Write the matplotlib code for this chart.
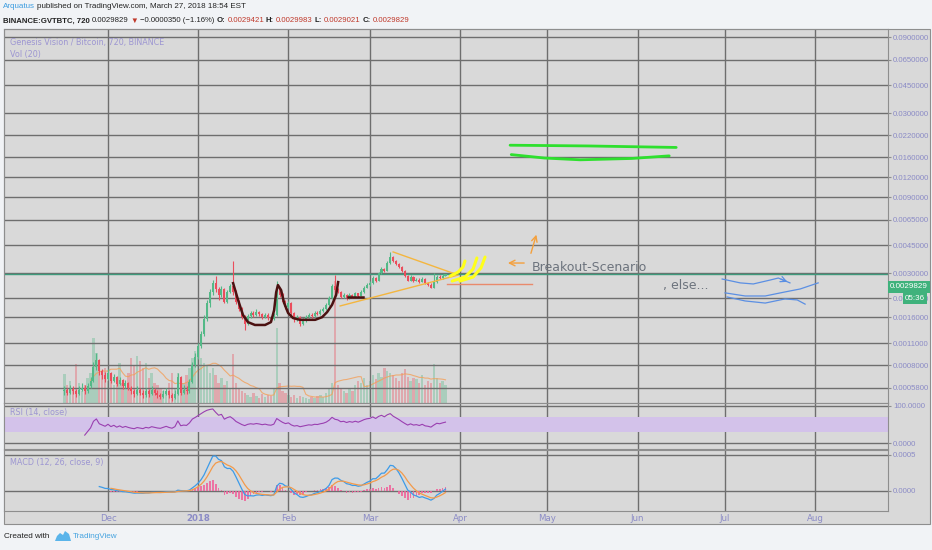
import numpy as np
import pandas as pd
import matplotlib
matplotlib.use("Agg")
import matplotlib.pyplot as plt
from matplotlib.patches import Rectangle, Polygon

W, H = 932, 550
start = pd.Timestamp("2017-11-16")

# daily GVT/BTC candles, price in 1e-4 BTC
close_e4 = [
    5.6, 5.4, 5.7, 5.5, 5.3, 5.6, 5.8, 5.5, 5.9, 6.4,
    7.8, 8.6, 7.4,
    7.0, 6.6, 7.2, 6.4, 6.8, 6.1, 6.5, 5.9, 6.2,
    5.8, 5.5, 5.3, 5.6, 5.4, 5.2, 5.5, 5.3, 5.6, 5.4, 5.2, 5.1, 5.3, 5.5, 5.2, 5.0, 5.3,
    6.8, 5.4, 5.6, 5.5, 6.3, 8.0, 9.0,
    10.5, 12.5, 15.5, 19.5, 23.0, 26.0, 24.0,
    22.0, 24.0, 20.0, 23.0, 25.0,
    23.0,
    20.0, 18.0, 16.0, 14.5,
    16.2, 17.0, 16.5, 17.3, 16.8, 16.0, 16.6, 15.8, 15.5,
    16.5, 24.0,
    22.0, 20.0, 18.5, 19.5,
    17.0, 15.5, 16.0, 14.5, 15.2,
    16.0, 16.5, 16.2, 17.0, 16.8, 17.5, 18.0, 19.0,
    21.0, 25.0, 23.5,
    23.0, 21.5, 22.0, 21.0,
    22.0, 21.5, 22.5, 21.8,
    23.0, 24.5, 25.5, 26.0,
    28.0, 27.0,
    30.0, 32.0, 31.0,
    35.0, 38.0,
    36.0, 34.5, 33.0, 31.0,
    29.0, 27.0, 28.5, 27.0,
    27.5, 26.5, 27.8,
    26.0, 25.5, 24.5,
    26.5,
    28.5, 28.0, 29.0, 29.829,
]
high_e4 = [
    5.9, 5.8, 6.0, 5.9, 5.7, 5.9, 6.2, 6.0, 6.2, 6.8,
    8.4, 9.6, 8.8,
    7.6, 7.3, 7.6, 7.3, 7.1, 6.9, 6.8, 6.6, 6.5,
    6.3, 5.9, 5.7, 5.9, 5.8, 5.6, 5.8, 5.7, 5.9, 5.8, 5.6, 5.4, 5.6, 5.8, 5.6, 5.4, 5.6,
    7.2, 6.9, 6.0, 5.9, 6.6, 8.4, 9.6,
    11.0, 13.2, 16.4, 20.5, 24.0, 27.5, 29.0,
    24.8, 25.0, 24.5, 23.6, 25.8,
    36.0,
    23.5, 20.5, 18.5, 16.5,
    16.8, 17.6, 17.4, 17.9, 17.6, 17.0, 17.1, 16.9, 16.2,
    17.0, 27.0,
    24.5, 22.5, 20.5, 20.2,
    19.8, 17.3, 16.6, 16.3, 15.9,
    16.6, 17.0, 16.9, 17.5, 17.4, 18.0, 18.6, 19.6,
    21.8, 25.8, 29.5,
    24.2, 23.4, 22.6, 22.3,
    22.6, 22.4, 23.0, 22.8,
    23.6, 25.0, 26.2, 26.8,
    28.8, 28.6,
    30.8, 32.8, 32.6,
    35.8, 41.0,
    38.8, 36.5, 35.0, 33.5,
    31.5, 29.5, 29.3, 28.9,
    28.2, 28.0, 28.5,
    28.0, 26.6, 26.0,
    30.0,
    29.2, 29.3, 29.6, 29.983,
]
low_e4 = [
    5.2, 5.2, 5.3, 5.3, 5.1, 5.2, 5.5, 5.3, 5.4, 5.8,
    6.3, 7.5, 7.0,
    6.6, 6.3, 6.5, 6.2, 6.3, 5.9, 6.0, 5.7, 5.8,
    5.6, 5.3, 5.1, 5.2, 5.2, 5.0, 5.1, 5.1, 5.2, 5.2, 5.0, 4.9, 5.0, 5.2, 5.0, 4.8, 4.9,
    5.2, 5.2, 5.3, 5.3, 5.4, 6.2, 7.8,
    8.8, 10.2, 12.2, 15.2, 18.5, 22.0, 23.0,
    20.5, 21.5, 19.5, 19.6, 22.5,
    22.0,
    19.2, 17.5, 15.5, 13.3,
    14.3, 15.8, 16.0, 16.2, 16.3, 15.6, 15.7, 15.4, 15.2,
    15.3, 16.2,
    21.5, 19.6, 18.0, 18.2,
    16.6, 15.0, 15.1, 14.0, 14.2,
    15.0, 15.8, 15.8, 16.0, 16.4, 16.6, 17.3, 17.8,
    18.8, 20.8, 23.0,
    22.5, 21.0, 21.2, 20.6,
    20.9, 21.0, 21.3, 21.4,
    21.6, 22.8, 24.2, 25.0,
    25.8, 26.5,
    26.8, 29.8, 30.6,
    30.9, 34.5,
    35.4, 33.8, 32.5, 30.6,
    28.6, 26.8, 26.9, 26.7,
    26.8, 26.2, 26.4,
    25.8, 25.2, 24.2,
    24.4,
    26.3, 27.8, 27.9, 29.021,
]
first_open_e4 = 5.5
volume = [
    29, 18, 22, 15, 39, 20, 12, 18, 25, 30,
    65, 50, 35,
    28, 35, 22, 30, 18, 25, 40, 20, 15,
    30, 45, 38, 47, 42, 35, 40, 25, 30, 20, 18, 15, 12, 10, 20, 30, 14,
    30, 25, 20, 28, 35, 45, 52,
    50, 45, 40, 37, 30, 35, 28,
    20, 25, 18, 22, 15,
    49,
    20, 15, 12, 10,
    8, 6, 10, 7, 5, 9, 6, 8, 7,
    15, 75,
    20, 12, 10, 8,
    6, 8, 5, 7, 6,
    5, 4, 6, 5, 7, 8, 6, 10,
    15, 20, 122,
    18, 14, 12, 10,
    15, 12, 18, 22,
    20, 25, 18, 22,
    28, 24,
    30, 26, 35,
    32, 30,
    28, 25, 22, 30,
    34, 26, 22, 25,
    24, 20, 28,
    18, 22, 20,
    39,
    25, 20, 22, 18,
]

price_ticks = [0.09, 0.065, 0.045, 0.03, 0.022, 0.016, 0.012, 0.009, 0.0065,
               0.0045, 0.003, 0.0021, 0.0016, 0.0011, 0.0008, 0.00058]
month_dates = ["2017-12-01", "2018-01-01", "2018-02-01", "2018-03-01", "2018-04-01",
               "2018-05-01", "2018-06-01", "2018-07-01", "2018-08-01"]
month_labels = ["Dec", "2018", "Feb", "Mar", "Apr", "May", "Jun", "Jul", "Aug"]
last_price = 0.0029829

# hand drawings on the chart (day offset from start, price)
green_top_d = [153.2, 180.0, 210.3]
green_top_p = [0.0190, 0.0188, 0.0184]
green_bot_d = [153.6, 165.0, 177.3, 195.0, 207.9]
green_bot_p = [0.0166, 0.0158, 0.0154, 0.0157, 0.0163]
cup_d = [58.0, 59.7, 61.4, 63.1, 65.5, 69.0, 71.0, 72.1, 72.8, 73.4, 74.5,
         75.5, 76.9, 78.6, 81.0, 86.2, 88.6, 90.3, 92.0, 93.4, 94.1]
cup_p = [0.00261, 0.00205, 0.00165, 0.00149, 0.00143, 0.00143, 0.00149, 0.00177,
         0.00229, 0.00254, 0.00236, 0.00197, 0.00170, 0.00158, 0.00154, 0.00154,
         0.00160, 0.00172, 0.00191, 0.00220, 0.00265]
handle_d = [97.5, 102.7]
handle_p = [0.00214, 0.00214]
tri_upper_d = [113.0, 134.3]
tri_upper_p = [0.00409, 0.00298]
tri_lower_d = [94.8, 135.3]
tri_lower_p = [0.00188, 0.00293]
red_level_d = [131.5, 160.8]
red_level_p = [0.00258, 0.00258]
yellow_strokes = [
    ([132.6, 135.3, 137.0, 137.7], [0.00289, 0.00306, 0.00329, 0.00359]),
    ([133.3, 137.7, 140.5, 141.8], [0.00269, 0.00285, 0.00320, 0.00375]),
    ([136.0, 140.5, 143.2, 144.6], [0.00269, 0.00285, 0.00325, 0.00380]),
]
blue_waves = [
    ([226.1, 232.3, 236.8, 242.6, 245.4, 249.4], [0.00277, 0.00262, 0.00258, 0.00273, 0.00281, 0.00262]),
    ([227.1, 234.0, 240.9, 247.7, 252.9, 259.1], [0.00227, 0.00217, 0.00217, 0.00230, 0.00240, 0.00262]),
    ([227.8, 234.0, 240.9, 247.7, 251.9, 254.6], [0.00214, 0.00202, 0.00196, 0.00208, 0.00205, 0.00193]),
]

# ---- derived series ----
close = np.array(close_e4) * 1e-4
high = np.array(high_e4) * 1e-4
low = np.array(low_e4) * 1e-4
opn = np.r_[first_open_e4 * 1e-4, close[:-1]]
days = np.arange(len(close))
up = close >= opn

cs = pd.Series(close)
delta = cs.diff()
gain = delta.clip(lower=0).ewm(alpha=1 / 14, adjust=False, min_periods=7).mean()
loss = (-delta.clip(upper=0)).ewm(alpha=1 / 14, adjust=False, min_periods=7).mean()
rsi = 100 - 100 / (1 + gain / loss)
# daily bars -> MACD lengths halved vs the 12h chart
macd = cs.ewm(span=6, adjust=False).mean() - cs.ewm(span=13, adjust=False).mean()
macd[:12] = np.nan
signal = macd.ewm(span=5, adjust=False, min_periods=5).mean()
hist = macd - signal
vol_ma = pd.Series(volume).rolling(10).mean()

month_pos = [(pd.Timestamp(d) - start).days for d in month_dates]

# ---- figure ----
BG = "#d9d9d9"
GRID = "#6e6e6e"
LBL = "#8b8bc6"
fig = plt.figure(figsize=(W / 100, H / 100), dpi=100, facecolor="#f1f3f6")
fig.patches.append(Rectangle((4 / W, 1 - 524 / H), 926 / W, 495 / H, transform=fig.transFigure,
                             facecolor=BG, edgecolor="#8e8e8e", lw=0.8, zorder=0))


def rect(top, bottom):
    return [4 / W, 1 - bottom / H, 884 / W, (bottom - top) / H]


XL = (-20.75, 283.1)

ax_vol = fig.add_axes(rect(29, 403), zorder=1)
ax_vol.set_facecolor(BG)
ax_vol.bar(days, volume, width=0.8, color=np.where(up, "#53b987", "#eb4d5c"), alpha=0.35, lw=0)
ax_vol.plot(days, vol_ma, color="#f3a05a", lw=0.8, alpha=0.8)
ax_vol.set_ylim(0, 374)
ax_vol.set_xlim(*XL)
ax_vol.axis("off")

ax = fig.add_axes(rect(29, 403), zorder=2)
ax.set_facecolor("none")
ax.set_yscale("log")
ax.set_xlim(*XL)
ax.set_ylim(0.0004652, 0.10117)
ax.yaxis.tick_right()
ax.set_yticks(price_ticks)
ax.set_yticklabels([f"{v:.7f}" for v in price_ticks])
ax.yaxis.set_minor_locator(matplotlib.ticker.NullLocator())
ax.set_xticks(month_pos)
ax.grid(color=GRID, lw=1.0, zorder=0)
ax.set_axisbelow(True)
ax.axhline(last_price, color="#3f9a7c", lw=1.0, zorder=1)

# candles
ccol = np.where(up, "#53b987", "#eb4d5c")
ax.vlines(days, low, high, colors=ccol, lw=0.8, zorder=3)
ax.bar(days, np.abs(close - opn), bottom=np.minimum(close, opn), width=0.7, color=ccol, lw=0, zorder=3)

# drawings
ax.plot(green_top_d, green_top_p, color="#2ee02e", lw=2.0, solid_capstyle="round", zorder=4)
ax.plot(green_bot_d, green_bot_p, color="#2ee02e", lw=2.0, solid_capstyle="round", zorder=4)
ax.plot(cup_d, cup_p, color="#4b1111", lw=1.8, zorder=4)
ax.plot(handle_d, handle_p, color="#4b1111", lw=1.8, zorder=4)
ax.plot(tri_upper_d, tri_upper_p, color="#f4b63f", lw=1.0, zorder=4)
ax.plot(tri_lower_d, tri_lower_p, color="#f4b63f", lw=1.0, zorder=4)
ax.plot(red_level_d, red_level_p, color="#e98a6c", lw=1.0, zorder=4)
for sd, sp in yellow_strokes:
    ax.plot(sd, sp, color="#ffff1a", lw=2.2, solid_capstyle="round", zorder=5)
for i, (wd, wp) in enumerate(blue_waves):
    ax.plot(wd, wp, color="#5b8fe3", lw=0.9, zorder=4)
    if i == 0:
        ax.annotate("", xy=(wd[-1], wp[-1]), xytext=(wd[-2], wp[-2]),
                    arrowprops=dict(arrowstyle="->", color="#5b8fe3", lw=0.9))
ax.annotate("", xy=(151.5, 0.003487), xytext=(159.0, 0.003487),
            arrowprops=dict(arrowstyle="->", color="#f4a03c", lw=1.0))
ax.annotate("", xy=(162.5, 0.00545), xytext=(160.1, 0.00386),
            arrowprops=dict(arrowstyle="->", color="#f4a03c", lw=1.0))
ax.text(160.6, 0.00329, "Breakout-Scenario", color="#6c737d", fontsize=9, va="center", zorder=6)
ax.text(205.8, 0.00254, ", else...", color="#6c737d", fontsize=9, va="center", zorder=6)

# RSI pane
ax_rsi = fig.add_axes(rect(403, 449), zorder=2)
ax_rsi.set_facecolor(BG)
ax_rsi.set_xlim(*XL)
ax_rsi.set_ylim(-16.2, 108.1)
ax_rsi.axhspan(30, 70, color="#d3c2ea", lw=0, zorder=1)
ax_rsi.plot(days, rsi, color="#9a3fb0", lw=0.8, zorder=3)
ax_rsi.yaxis.tick_right()
ax_rsi.set_yticks([100, 0])
ax_rsi.set_yticklabels(["100.0000", "0.0000"])
ax_rsi.set_xticks(month_pos)
ax_rsi.grid(color=GRID, lw=1.0, zorder=0)
ax_rsi.set_axisbelow(True)

# MACD pane
ax_m = fig.add_axes(rect(450, 511), zorder=2)
ax_m.set_facecolor(BG)
ax_m.set_xlim(*XL)
ax_m.set_ylim(-0.000278, 0.000569)
ax_m.bar(days, hist, width=0.6, color="#f0619a", alpha=0.85, lw=0, zorder=2)
ax_m.plot(days, macd, color="#3d9be8", lw=0.9, zorder=3)
ax_m.plot(days, signal, color="#f39a4a", lw=0.9, zorder=3)
ax_m.yaxis.tick_right()
ax_m.set_yticks([0.0005, 0.0])
ax_m.set_yticklabels(["0.0005", "0.0000"])
ax_m.set_xticks(month_pos)
ax_m.set_xticklabels(month_labels)
for t in ax_m.get_xticklabels():
    if t.get_text() == "2018":
        t.set_fontweight("bold")
ax_m.grid(color=GRID, lw=1.0, zorder=0)
ax_m.set_axisbelow(True)

for a in (ax, ax_rsi, ax_m):
    for s in a.spines.values():
        s.set_color("#8e8e8e")
        s.set_linewidth(0.8)
    a.tick_params(axis="y", labelsize=5.6, labelcolor=LBL, color="#8e8e8e", length=2, pad=1.5)
    a.tick_params(axis="x", length=0, labelbottom=False)
    for t in a.get_yticklabels():
        t.set_family("Liberation Sans")
ax_m.tick_params(axis="x", labelbottom=True, labelsize=6.2, labelcolor=LBL, pad=2.5)

# last price labels on the price scale (they cover the 0.0021000 label, as on TradingView)
fig.text(890 / W, 1 - 287 / H, "0.0029829", fontsize=5.8, color="white", family="Liberation Sans",
         va="center", zorder=6, bbox=dict(boxstyle="square,pad=0.25", fc="#3fb27c", ec="none"))
fig.text(905 / W, 1 - 298.5 / H, "05:36", fontsize=5.8, color="white", family="Liberation Sans",
         va="center", zorder=6, bbox=dict(boxstyle="square,pad=0.25", fc="#3fb27c", ec="none"))

# pane legends
leg = dict(fontsize=5.8, color="#9d96d2", va="center", zorder=6)
fig.text(10 / W, 1 - 43 / H, "Genesis Vision / Bitcoin, 720, BINANCE", **leg)
fig.text(10 / W, 1 - 54 / H, "Vol (20)", **leg)
fig.text(10 / W, 1 - 413 / H, "RSI (14, close)", **leg)
fig.text(10 / W, 1 - 462 / H, "MACD (12, 26, close, 9)", **leg)

# header lines
renderer = fig.canvas.get_renderer()
HF = ["Liberation Sans", "DejaVu Sans"]


def text_run(x_px, y_px, parts, size, gap=2.0):
    for s, color, weight in parts:
        t = fig.text(x_px / W, 1 - y_px / H, s, fontsize=size, color=color, fontweight=weight,
                     family=HF, va="center")
        x_px += t.get_window_extent(renderer).width + gap
    return x_px


DARK = "#222222"
RED = "#c0392b"
text_run(3, 7, [("Arquatus", "#3d9de0", "normal"),
                ("published on TradingView.com, March 27, 2018 18:54 EST", DARK, "normal")], 5.8)
text_run(3, 21, [("BINANCE:GVTBTC, 720", DARK, "bold"), ("0.0029829", DARK, "normal"),
                 ("\u25bc", RED, "normal"), ("\u22120.0000350 (\u22121.16%)", DARK, "normal"),
                 ("O:", DARK, "bold"), ("0.0029421", RED, "normal"),
                 ("H:", DARK, "bold"), ("0.0029983", RED, "normal"),
                 ("L:", DARK, "bold"), ("0.0029021", RED, "normal"),
                 ("C:", DARK, "bold"), ("0.0029829", RED, "normal")], 5.6)

# footer
fig.text(4 / W, 1 - 537 / H, "Created with", fontsize=5.9, color=DARK, family=HF, va="center")
logo = [(55, 541), (57, 536), (60, 533), (63, 535), (65, 531), (69, 534), (71, 541)]
fig.patches.append(Polygon([(x / W, 1 - y / H) for x, y in logo], closed=True,
                           transform=fig.transFigure, fc="#5ab4ea", ec="none"))
fig.text(73 / W, 1 - 537 / H, "TradingView", fontsize=5.9, color="#47a4e0", family=HF, va="center")

fig.savefig("out.png", dpi=100, facecolor=fig.get_facecolor())
